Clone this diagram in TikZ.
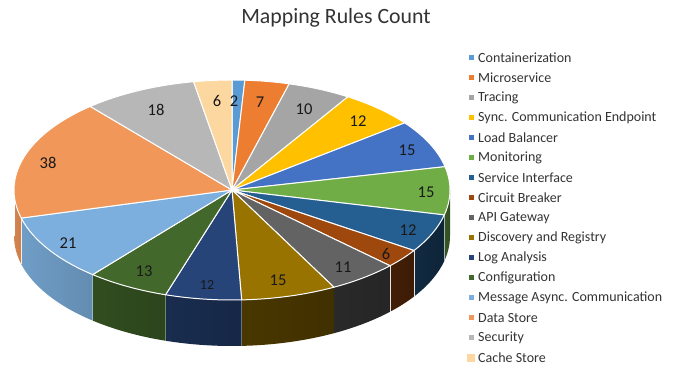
\documentclass[tikz,border=0pt]{standalone}
\usepackage{fontspec}
\setmainfont{Carlito}
\definecolor{cA}{HTML}{5B9BD5}
\definecolor{cB}{HTML}{ED7D31}
\definecolor{cC}{HTML}{A5A5A5}
\definecolor{cD}{HTML}{FFC000}
\definecolor{cE}{HTML}{4472C4}
\definecolor{cF}{HTML}{70AD47}
\definecolor{cG}{HTML}{255E91}
\definecolor{cH}{HTML}{9E480E}
\definecolor{cI}{HTML}{636363}
\definecolor{cJ}{HTML}{997300}
\definecolor{cK}{HTML}{264478}
\definecolor{cL}{HTML}{43682B}
\definecolor{cM}{HTML}{7CAFDD}
\definecolor{cN}{HTML}{F1975A}
\definecolor{cO}{HTML}{B7B7B7}
\definecolor{cP}{HTML}{FDD7A0}
\definecolor{txt}{HTML}{333333}
\def\rx{218pt}
\def\ry{110pt}
\def\dep{46pt}
\newcommand{\pietop}[3]{%
  \fill[#3] (0,0) -- (#1:\rx\space and \ry) arc[start angle=#1,end angle=#2,x radius=\rx,y radius=\ry] -- cycle;
  \draw[white,line width=1pt,line join=round] (0,0) -- (#1:\rx\space and \ry) arc[start angle=#1,end angle=#2,x radius=\rx,y radius=\ry] -- cycle;}
\newcommand{\pieside}[5]{%
  \shade[left color=#3!#4!black,right color=#3!#5!black] (#1:\rx\space and \ry) arc[start angle=#1,end angle=#2,x radius=\rx,y radius=\ry] -- ++(0,-\dep) arc[start angle=#2,end angle=#1,x radius=\rx,y radius=\ry] -- cycle;
  \draw[white,line width=1pt] (#2:\rx\space and \ry) -- ++(0,-\dep);}
\tikzset{
  val/.style={font=\fontsize{16.5}{18}\selectfont,text=black!90,inner sep=0pt},
  legtext/.style={font=\fontsize{14}{16}\selectfont,text=txt,anchor=west,inner sep=0pt},
}
\begin{document}
\begin{tikzpicture}[x=1pt,y=1pt]
\useasboundingbox (0,0) rectangle (678,369);
\node[font=\fontsize{21.8}{24}\selectfont,text=txt,inner sep=0pt] (title) at (336,351) {Mapping Rules Count};
\begin{scope}[shift={(232,179)}]
  % side walls
  \pieside{0}{-13.099}{cF}{50}{45}
  \pieside{-13.099}{-33.380}{cG}{45}{38}
  \pieside{-33.380}{-43.521}{cH}{42}{38}
  \pieside{-43.521}{-62.113}{cI}{42}{38}
  \pieside{-62.113}{-87.465}{cJ}{48}{42}
  \pieside{-87.465}{-107.746}{cK}{66}{58}
  \pieside{-107.746}{-129.718}{cL}{74}{66}
  \pieside{-129.718}{-165.211}{cM}{90}{80}
  \pieside{-165.211}{-180}{cN}{88}{84}
  % top faces
  \pietop{90}{86.620}{cA}
  \pietop{86.620}{74.789}{cB}
  \pietop{74.789}{57.887}{cC}
  \pietop{57.887}{37.606}{cD}
  \pietop{37.606}{12.254}{cE}
  \pietop{12.254}{-13.099}{cF}
  \pietop{-13.099}{-33.380}{cG}
  \pietop{-33.380}{-43.521}{cH}
  \pietop{-43.521}{-62.113}{cI}
  \pietop{-62.113}{-87.465}{cJ}
  \pietop{-87.465}{-107.746}{cK}
  \pietop{-107.746}{-129.718}{cL}
  \pietop{-129.718}{-165.211}{cM}
  \pietop{-165.211}{-229.437}{cN}
  \pietop{-229.437}{-259.859}{cO}
  \pietop{-259.859}{-270}{cP}
\end{scope}
% data labels
\node[val] (l1) at (234,268) {2};
\node[val] (l2) at (260,267) {7};
\node[val] (l3) at (304,260) {10};
\node[val] (l4) at (358,248) {12};
\node[val] (l5) at (407,219) {15};
\node[val] (l6) at (426,177) {15};
\node[val] (l7) at (408,139) {12};
\node[val] (l8) at (386,115) {6};
\node[val] (l9) at (343,102) {11};
\node[val] (l10) at (278,89) {15};
\node[val,font=\fontsize{14}{16}\selectfont] (l11) at (207,84) {12};
\node[val] (l12) at (144,98) {13};
\node[val] (l13) at (68,126) {21};
\node[val] (l14) at (48,206) {38};
\node[val] (l15) at (156,259) {18};
\node[val] (l16) at (217,268) {6};
% legend
\foreach \c/\t [count=\i from 0] in {cA/Containerization,cB/Microservice,cC/Tracing,cD/Sync. Communication Endpoint,cE/Load Balancer,cF/Monitoring,cG/Service Interface,cH/Circuit Breaker,cI/API Gateway,cJ/Discovery and Registry,cK/Log Analysis,cL/Configuration,cM/Message Async. Communication,cN/Data Store,cO/Security}{
  \fill[\c] (468.5,{311-20*\i-2.5}) rectangle ++(5,5);
  \node[legtext] (leg\i) at (478,{311-20*\i}) {\t};
}
\fill[cP] (467,{311-300-4}) rectangle ++(8,8);
\node[legtext] (leg15) at (478,11) {Cache Store};
\end{tikzpicture}
\end{document}
